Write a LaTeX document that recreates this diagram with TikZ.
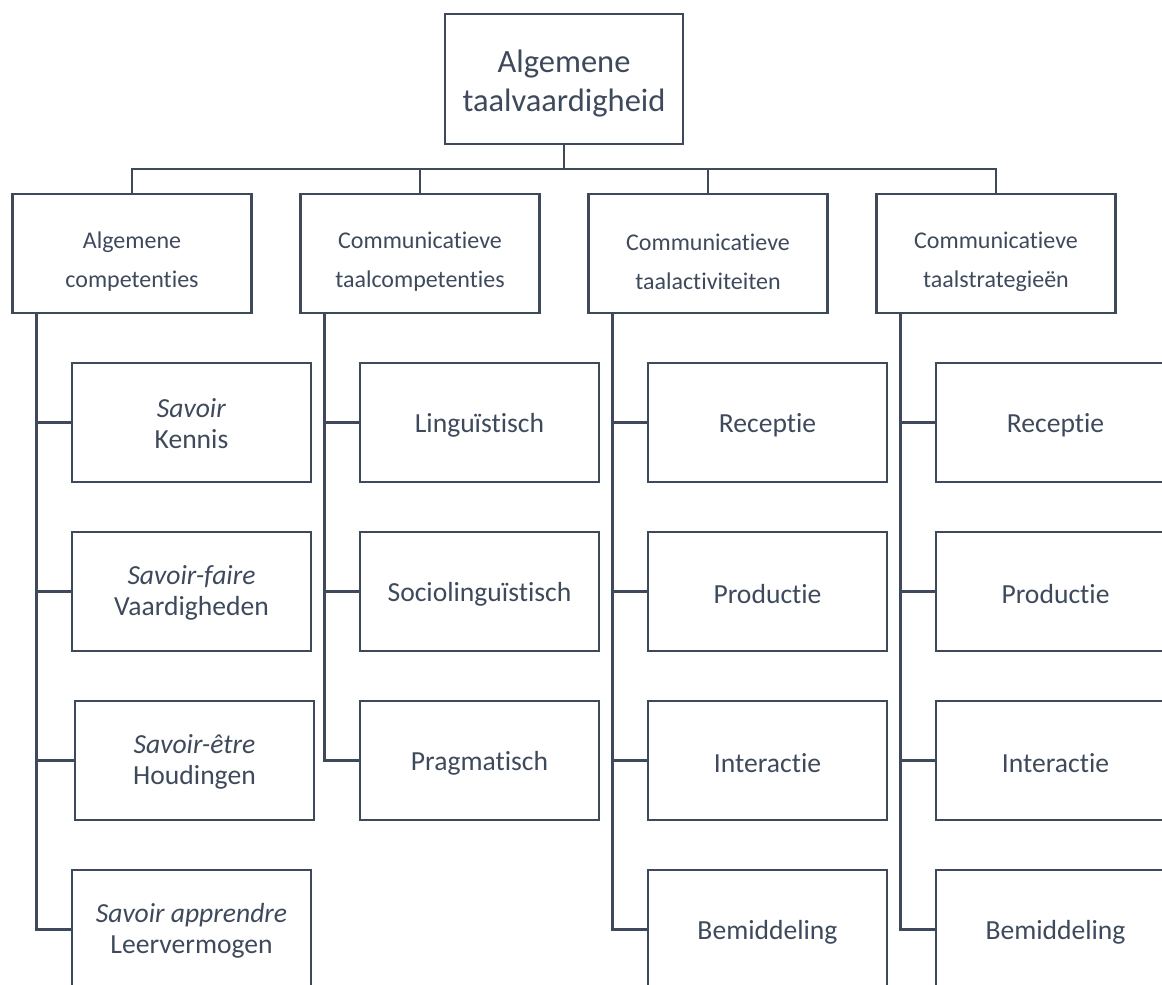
\documentclass[tikz,border=0pt]{standalone}
\usepackage{fontspec}
\setmainfont{Carlito}[Ligatures=NoCommon]
\definecolor{ink}{RGB}{62,74,92}
\begin{document}
\begin{tikzpicture}[x=1pt,y=-1pt,
  box/.style={draw=ink, line width=2.4pt, inner sep=0pt},
  txt/.style={text=ink, align=center, inner sep=0pt},
  topbox/.style={box, minimum width=238pt, minimum height=130pt,
     label={[txt, font=\fontsize{32.5}{39}\selectfont, yshift=-4.5pt]center:{#1}}},
  midbox/.style={box, minimum width=239pt, minimum height=119pt,
     label={[txt, font=\fontsize{24}{39}\selectfont, yshift=-8.5pt]center:{#1}}},
  leafbox/.style={box, minimum width=239pt, minimum height=119pt,
     label={[txt, font=\fontsize{27.6}{31}\selectfont, yshift=-1pt]center:{#1}}},
  leafone/.style={box, minimum width=239pt, minimum height=119pt,
     label={[txt, font=\fontsize{27.6}{31}\selectfont, yshift=-3pt]center:{#1}}},
  conn/.style={draw=ink, line width=2.4pt}]
\useasboundingbox (0,0) rectangle (1162,985);
\clip (0,0) rectangle (1162,985);
\node[topbox={Algemene\\taalvaardigheid}] (top) at (564,79) {};
\node[midbox={Algemene\\competenties}] (m1) at (132,253.5) {};
\node[midbox={Communicatieve\\taalcompetenties}] (m2) at (420,253.5) {};
\node[midbox={Communicatieve\\taalactiviteiten}] (m3) at (708,253.5) {};
\node[midbox={Communicatieve\\taalstrategieën}] (m4) at (996,253.5) {};
\coordinate (bus) at (564,169);
% column 1
\node[leafbox={\textit{Savoir}\\Kennis}] (a1) at (191.5,422.5) {};
\node[leafbox={\textit{Savoir-faire}\\Vaardigheden}] (a2) at (191.5,591.5) {};
\node[leafbox={\textit{Savoir-être}\\Houdingen}] (a3) at (194.5,760.5) {};
\node[leafbox={\textit{Savoir apprendre}\\Leervermogen}] (a4) at (191.5,929.5) {};
% column 2
\node[leafone={Linguïstisch}] (b1) at (479.5,422.5) {};
\node[leafone={Sociolinguïstisch}] (b2) at (479.5,591.5) {};
\node[leafone={Pragmatisch}] (b3) at (479.5,760.5) {};
% column 3
\node[leafone={Receptie}] (c1) at (767.5,422.5) {};
\node[leafone={Productie}] (c2) at (767.5,591.5) {};
\node[leafone={Interactie}] (c3) at (767.5,760.5) {};
\node[leafone={Bemiddeling}] (c4) at (767.5,929.5) {};
% column 4
\node[leafone={Receptie}] (d1) at (1055.5,422.5) {};
\node[leafone={Productie}] (d2) at (1055.5,591.5) {};
\node[leafone={Interactie}] (d3) at (1055.5,760.5) {};
\node[leafone={Bemiddeling}] (d4) at (1055.5,929.5) {};
% tree connectors
\draw[conn] (top.south) -- (bus);
\draw[conn] (m1.north) |- (bus) -| (m4.north);
\draw[conn] (m2.north) -- (m2.north |- bus);
\draw[conn] (m3.north) -- (m3.north |- bus);
% spines
\foreach \m/\leaves in {m1/{a1,a2,a3,a4}, m2/{b1,b2,b3}, m3/{c1,c2,c3,c4}, m4/{d1,d2,d3,d4}}{
  \foreach \l in \leaves {
    \draw[conn] ([xshift=25pt]\m.south west) |- (\l.west);
  }
}
\end{tikzpicture}
\end{document}
